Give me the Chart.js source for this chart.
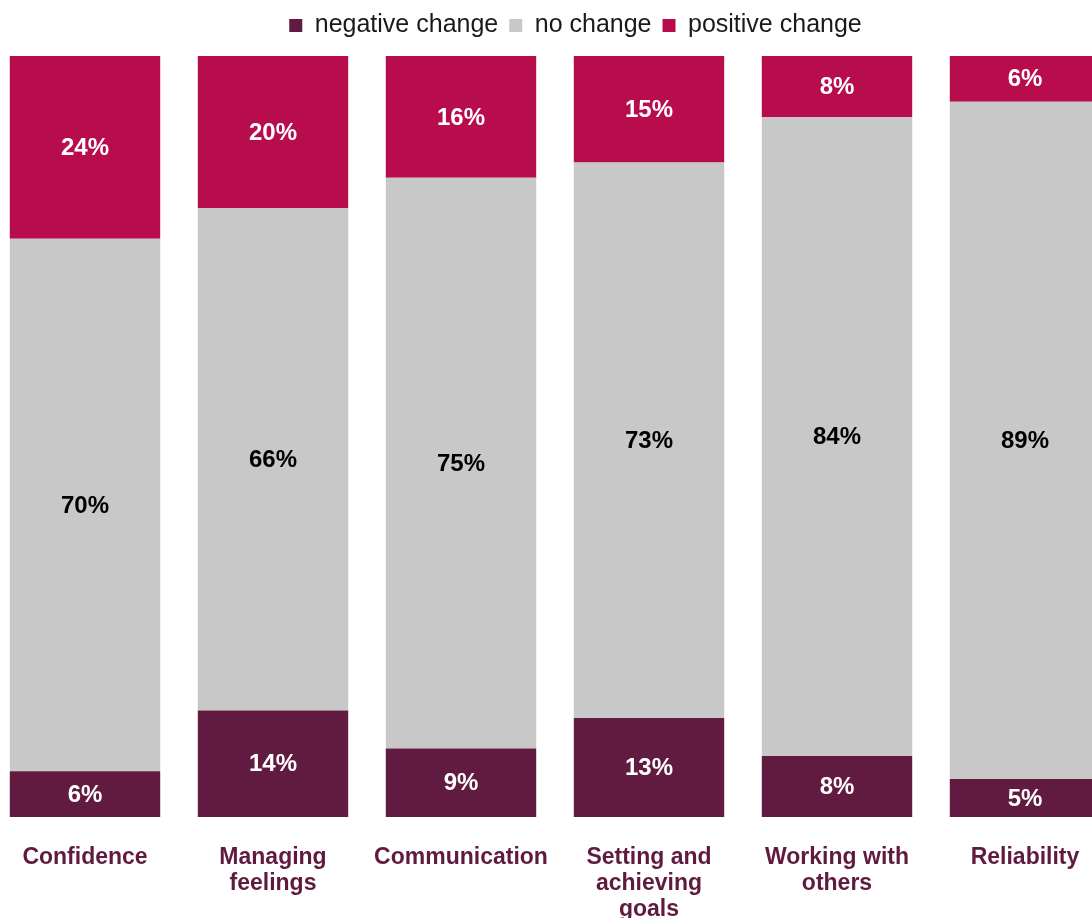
<!DOCTYPE html>
<html>
<head>
<meta charset="utf-8">
<script src="https://cdn.jsdelivr.net/npm/chart.js@4"></script>
<style>
  html, body { margin: 0; padding: 0; background: #ffffff; overflow: hidden; }
  body { width: 1092px; height: 918px; position: relative; }
  #wrap { position: absolute; left: -9px; top: 0; width: 1169px; height: 918px; }
</style>
</head>
<body>
<div id="wrap"><canvas id="chart"></canvas></div>
<script>
// Skill areas and share of young people (%) by type of change
const categories = [
  'Confidence',
  ['Managing', 'feelings'],
  'Communication',
  ['Setting and', 'achieving', 'goals'],
  ['Working with', 'others'],
  'Reliability'
];
const negativeChange = [6, 14, 9, 13, 8, 5];
const noChange = [70, 66, 75, 73, 84, 89];
const positiveChange = [24, 20, 16, 15, 8, 6];
const seriesNames = ['negative change', 'no change', 'positive change'];

const FONT = 'Arial, "Liberation Sans", sans-serif';

// Writes each segment's percentage in the middle of its visible part
const segmentLabels = {
  id: 'segmentLabels',
  afterDatasetsDraw(chart) {
    const { ctx, chartArea } = chart;
    ctx.save();
    ctx.font = 'bold 24px ' + FONT;
    ctx.textAlign = 'center';
    ctx.textBaseline = 'middle';
    chart.data.datasets.forEach((ds, di) => {
      const meta = chart.getDatasetMeta(di);
      meta.data.forEach((bar, i) => {
        const { x, y, base } = bar.getProps(['x', 'y', 'base'], true);
        const top = Math.max(Math.min(y, base), chartArea.top);
        const bottom = Math.min(Math.max(y, base), chartArea.bottom);
        ctx.fillStyle = ds.labelColor;
        ctx.fillText(ds.data[i] + '%', x, (top + bottom) / 2 + 1);
      });
    });
    ctx.restore();
  }
};

// Empty scale used only to reserve room beside the plot
const spacer = (position, axis, size) => ({
  type: 'linear',
  axis,
  position,
  grid: { display: false, drawTicks: false },
  border: { display: false },
  ticks: { display: false },
  afterFit(scale) {
    if (scale.isHorizontal()) scale.height = size; else scale.width = size;
  }
});

new Chart(document.getElementById('chart'), {
  type: 'bar',
  data: {
    labels: categories,
    datasets: [
      { label: seriesNames[0], data: negativeChange, backgroundColor: '#621b40', labelColor: '#ffffff' },
      { label: seriesNames[1], data: noChange, backgroundColor: '#c8c8c8', labelColor: '#000000' },
      { label: seriesNames[2], data: positiveChange, backgroundColor: '#b70d4d', labelColor: '#ffffff' }
    ]
  },
  options: {
    responsive: true,
    maintainAspectRatio: false,
    animation: false,
    layout: { padding: { top: 2, left: 0, right: 0, bottom: 0 } },
    datasets: {
      bar: { xAxisID: 'x', yAxisID: 'y', categoryPercentage: 0.8, barPercentage: 1, borderWidth: 0 }
    },
    scales: {
      x: {
        stacked: true,
        grid: { display: false, drawTicks: false },
        border: { display: false },
        ticks: {
          color: '#5f1a3e',
          font: { family: FONT, size: 23, weight: 'bold', lineHeight: 1.15 },
          padding: 27,
          maxRotation: 0,
          autoSkip: false
        },
        afterFit(scale) { scale.height = 101; }
      },
      y: {
        stacked: true,
        display: false,
        min: 0,
        max: 100
      },
      topGap: spacer('top', 'x', 8),
      rightGap: spacer('right', 'y', 41)
    },
    plugins: {
      legend: {
        position: 'top',
        labels: {
          boxWidth: 13,
          boxHeight: 13,
          padding: 11,
          color: '#1a1a1a',
          font: { family: FONT, size: 25 }
        }
      },
      tooltip: { enabled: false }
    }
  },
  plugins: [segmentLabels]
});
</script>
</body>
</html>
